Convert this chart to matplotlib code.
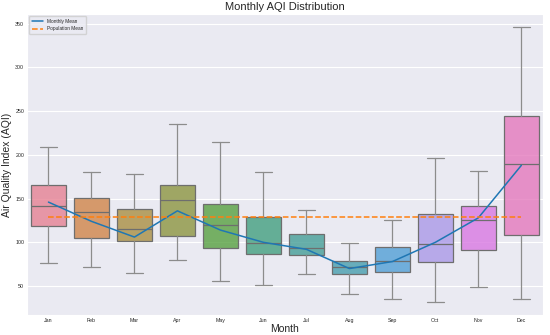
import matplotlib

matplotlib.use("Agg")
import matplotlib.pyplot as plt
import seaborn as sns

months = ["Jan", "Feb", "Mar", "Apr", "May", "Jun", "Jul", "Aug", "Sep", "Oct", "Nov", "Dec"]
whisker_low = [76, 72, 65, 80, 56, 51, 64, 41, 35, 32, 49, 35]
q1 = [119, 105, 102, 107, 93, 87, 85, 64, 66, 77, 91, 108]
median = [142, 135, 115, 148, 120, 99, 93, 72, 79, 98, 125, 190]
q3 = [165, 151, 138, 166, 144, 129, 109, 79, 95, 132, 141, 245]
whisker_high = [209, 180, 178, 235, 215, 180, 137, 99, 126, 196, 182, 346]
monthly_mean = [146, 124, 106, 136, 114, 100, 92, 70, 78, 100, 128, 188]
population_mean = 129

sns.set_style("darkgrid")
plt.rcParams["font.family"] = ["Liberation Sans", "DejaVu Sans"]

colors = sns.color_palette("husl", len(months), desat=0.75)
box_edge = "#6e6e6e"
whisk = "#8c8c8c"

stats = []
for i, m in enumerate(months):
    stats.append({
        "label": m,
        "whislo": whisker_low[i],
        "q1": q1[i],
        "med": median[i],
        "q3": q3[i],
        "whishi": whisker_high[i],
        "fliers": [],
    })

fig, ax = plt.subplots(figsize=(5.5, 3.35), dpi=100)
fig.subplots_adjust(left=0.049, right=0.987, bottom=0.06, top=0.958)

positions = list(range(len(months)))
bp = ax.bxp(
    stats,
    positions=positions,
    widths=0.8,
    patch_artist=True,
    showfliers=False,
    boxprops={"edgecolor": box_edge, "linewidth": 0.9},
    whiskerprops={"color": whisk, "linewidth": 0.9},
    capprops={"color": whisk, "linewidth": 0.9},
    medianprops={"color": box_edge, "linewidth": 0.9},
    capwidths=0.4,
)
for patch, c in zip(bp["boxes"], colors):
    patch.set_facecolor((*c, 0.8))

ax.plot(positions, monthly_mean, color="#1f77b4", linewidth=1.1, label="Monthly Mean", zorder=5)
ax.plot([positions[0], positions[-1]], [population_mean, population_mean], color="#ff7f0e",
        linestyle="--", linewidth=1.1, label="Population Mean", zorder=5)

ax.set_xlim(-0.5, len(months) - 0.5)
ax.set_ylim(17, 361)
ax.xaxis.grid(False)
ax.set_xticks(positions)
ax.set_xticklabels(months)
ax.tick_params(axis="both", labelsize=3.8, pad=2, length=0)
ax.set_title("Monthly AQI Distribution", fontsize=8, pad=3)
ax.set_xlabel("Month", fontsize=7.5, labelpad=1)
ax.set_ylabel("Air Quality Index (AQI)", fontsize=7.5, labelpad=2)
ax.legend(loc="upper left", fontsize=3.4, frameon=True, borderpad=0.5, handlelength=2.5)

fig.savefig("out.png", dpi=100)
